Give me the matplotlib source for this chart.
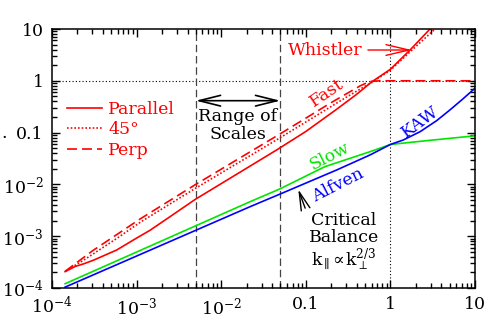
import numpy as np
import matplotlib.pyplot as plt
from matplotlib.ticker import LogLocator, NullFormatter

plt.rcParams['font.family'] = ['DejaVu Serif']
plt.rcParams['mathtext.fontset'] = 'dejavuserif'

# Data (log-log)
fast_par_k = [1.43e-4, 1.87e-4, 2.4e-4, 3.1e-4, 5.8e-4, 1.0e-3, 1.44e-3, 2.5e-3, 4.9e-3, 0.045, 0.10, 0.23, 0.40, 0.60, 1.0, 1.7, 2.94]
fast_par_w = [2.07e-4, 2.6e-4, 2.95e-4, 3.45e-4, 5.4e-4, 9.2e-4, 1.3e-3, 2.4e-3, 5.1e-3, 0.046, 0.105, 0.28, 0.55, 0.95, 1.67, 3.9, 10.0]

fast_45_k = [1.43e-4, 2.4e-4, 5.8e-4, 1.1e-3, 4.9e-3, 0.05, 0.30, 0.60, 1.0, 1.7, 3.37]
fast_45_w = [2.1e-4, 3.5e-4, 9.0e-4, 1.85e-3, 8.3e-3, 0.08, 0.48, 0.93, 1.6, 3.6, 10.0]

fast_perp_k = [1.43e-4, 3.0e-4, 1.1e-3, 4.9e-3, 0.05, 0.20, 0.44, 0.57, 0.75, 10.0]
fast_perp_w = [2.1e-4, 5.2e-4, 2.15e-3, 9.8e-3, 0.095, 0.38, 0.8, 0.97, 1.0, 1.0]

slow_k = [1.43e-4, 0.0219, 0.0495, 0.168, 0.574, 1.0, 2.94, 9.55, 10.0]
slow_w = [1.21e-4, 4.63e-3, 8.2e-3, 0.022, 0.0428, 0.059, 0.071, 0.086, 0.087]

alf_k = [1.43e-4, 0.0219, 0.0495, 0.232, 0.574, 1.0, 1.42, 2.24, 3.52, 5.0, 7.0, 10.0]
alf_w = [1.04e-4, 3.71e-3, 6.5e-3, 0.019, 0.037, 0.059, 0.072, 0.104, 0.17, 0.27, 0.43, 0.72]

range_k = [5e-3, 0.05]
ticks = [1e-4, 1e-3, 1e-2, 0.1, 1, 10]
tick_labels = [r'$10^{-4}$', r'$10^{-3}$', r'$10^{-2}$', '0.1', '1', '10']

fs = 12.5

fig = plt.figure(figsize=(4.99, 3.24), dpi=100)
ax = fig.add_axes([52/499, 36/324, 423/499, 259/324])
ax.set_xscale('log')
ax.set_yscale('log')
ax.set_xlim(1e-4, 10)
ax.set_ylim(1e-4, 10)

# reference lines
ax.axhline(1, color='black', ls=(0, (1, 2)), lw=0.8, zorder=1)
ax.axvline(1, color='black', ls=(0, (1, 2)), lw=0.8, zorder=1)
for k in range_k:
    ax.axvline(k, color='#444444', ls=(0, (6, 3)), lw=0.9, zorder=1)

red = '#ff0000'
ax.plot(fast_par_k, fast_par_w, color=red, lw=1.2, label='Parallel')
ax.plot(fast_45_k, fast_45_w, color=red, lw=1.2, ls=(0, (1, 1.2)), label='45°')
ax.plot(fast_perp_k, fast_perp_w, color=red, lw=1.2, ls=(0, (6, 3)), label='Perp')
ax.plot(slow_k, slow_w, color='#00e600', lw=1.2)
ax.plot(alf_k, alf_w, color='#0000ff', lw=1.2)

leg = ax.legend(loc='upper left', bbox_to_anchor=(0.02, 0.75), frameon=False,
                labelcolor=red, fontsize=fs, handlelength=2.0, handletextpad=0.35,
                labelspacing=0.2, borderaxespad=0)

# labels
ax.annotate('Whistler', xy=(1.8, 3.93), xytext=(0.169, 3.93), color=red, fontsize=fs,
            ha='center', va='center',
            arrowprops=dict(arrowstyle='->,head_length=1.5,head_width=0.35', color=red, lw=1.0,
                            shrinkA=2, shrinkB=0, mutation_scale=11))
ax.annotate('', xy=(range_k[0], 0.413), xytext=(range_k[1], 0.413),
            arrowprops=dict(arrowstyle='<->,head_length=1.4,head_width=0.35', color='black', lw=1.2,
                            shrinkA=0, shrinkB=0, mutation_scale=11))
ax.text(0.0158, 0.138, 'Range of\nScales', ha='center', va='center', fontsize=fs, linespacing=1.1)
ax.text(0.177, 0.574, 'Fast', color=red, fontsize=fs, rotation=34, ha='center', va='center')
ax.text(0.193, 0.0343, 'Slow', color='#00e600', fontsize=fs, rotation=27, ha='center', va='center')
ax.text(2.24, 0.162, 'KAW', color='#0000ff', fontsize=fs, rotation=36, ha='center', va='center')
ax.text(0.242, 9.7e-3, 'Alfven', color='#0000ff', fontsize=fs, rotation=27, ha='center', va='center')
ax.annotate('Critical\nBalance\n' + r'$\mathrm{k}_{\parallel}\!\propto\!\mathrm{k}_{\perp}^{2/3}$',
            xy=(0.0815, 8.0e-3), xytext=(0.283, 7.4e-4), fontsize=fs, ha='center', va='center',
            linespacing=1.0,
            arrowprops=dict(arrowstyle='->,head_length=1.2,head_width=0.3', color='black', lw=1.0,
                            relpos=(0.0, 0.9), shrinkA=2, shrinkB=0, mutation_scale=11))

# axes styling
ax.set_xticks(ticks)
ax.set_xticklabels(tick_labels)
ax.set_yticks(ticks)
ax.set_yticklabels(tick_labels)
for axis in (ax.xaxis, ax.yaxis):
    axis.set_minor_locator(LogLocator(base=10, subs=np.arange(2, 10)))
    axis.set_minor_formatter(NullFormatter())
ax.tick_params(which='both', direction='in', top=True, right=True, labelsize=fs, width=1.0)
ax.tick_params(which='major', length=6, pad=6)
ax.tick_params(which='minor', length=3.5)
for s in ax.spines.values():
    s.set_linewidth(1.1)

fig.text(0.002, 1 - 133/324, '.', fontsize=fs, va='center')

fig.savefig('out.png', dpi=100)
